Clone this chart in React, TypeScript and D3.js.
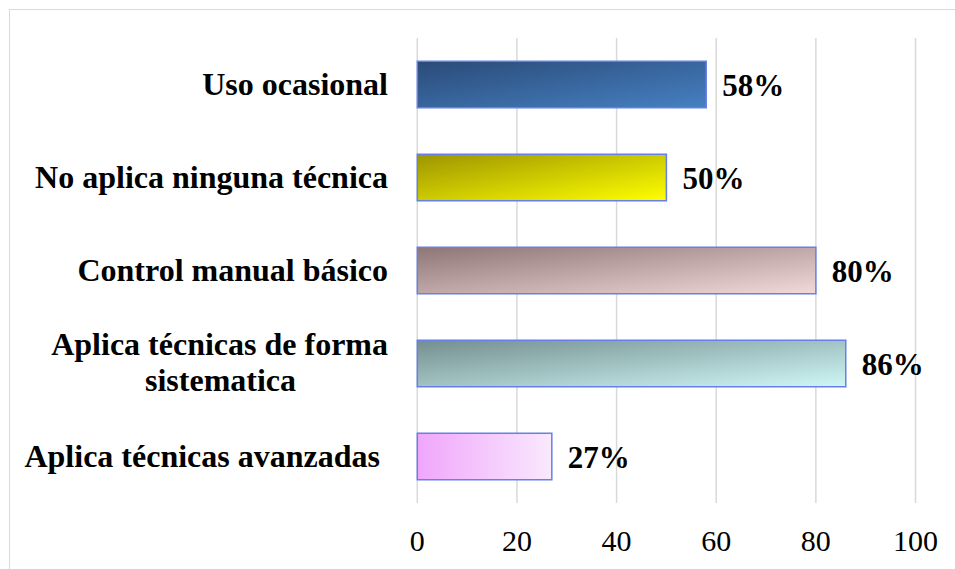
import React from 'react'
import * as d3 from 'd3'

const categories = [
  'Uso ocasional',
  'No aplica ninguna técnica',
  'Control manual básico',
  'Aplica técnicas de forma sistematica',
  'Aplica técnicas avanzadas ',
]
const values = [58, 50, 80, 86, 27]
const ticks = [0, 20, 40, 60, 80, 100]
// gradient colours per bar
const fillStart = ['#2a4b78', '#9c9500', '#8e7676', '#758e8e', '#f0a6fb']
const fillEnd = ['#4680c2', '#ffff00', '#f2dada', '#cff7f7', '#f9e9fd']
const fillDiagonal = [true, true, true, true, false]

const W = 955, H = 569
const FONT = '"Liberation Serif", "Times New Roman", serif'

export default function App() {
  const x = d3.scaleLinear().domain([0, 100]).range([417.3, 915.5])
  const y = d3.scaleBand<string>().domain(categories).range([38, 503]).paddingInner(0.5).paddingOuter(0.25)
  const bw = y.bandwidth()
  const labelRight = 388

  return (
    <svg width={W} height={H} style={{ position: 'absolute', left: 0, top: 0, background: '#fff' }}>
      <defs>
        {categories.map((c, i) => (
          <linearGradient key={c} id={`g${i}`} x1="0" y1="0" x2="1" y2={fillDiagonal[i] ? 1 : 0}>
            <stop offset="0" stopColor={fillStart[i]} />
            <stop offset="1" stopColor={fillEnd[i]} />
          </linearGradient>
        ))}
      </defs>
      <rect x={9.5} y={9.5} width={W} height={H} fill="none" stroke="#d9d9d9" strokeWidth={1} />
      {ticks.map(t => (
        <line key={t} x1={x(t)} x2={x(t)} y1={38} y2={503} stroke="#d9d9d9" strokeWidth={1.5} />
      ))}
      {ticks.map(t => (
        <text key={'t' + t} x={x(t)} y={551} textAnchor="middle" fontFamily={FONT} fontSize={30} fill="#000">{t}</text>
      ))}
      {categories.map((c, i) => {
        const y0 = y(c)!
        const cy = y0 + bw / 2
        return (
          <g key={c}>
            <rect x={x(0)} y={y0} width={x(values[i]) - x(0)} height={bw} fill={`url(#g${i})`} stroke="#6680e8" strokeWidth={1.5} />
            <text x={x(values[i]) + 16} y={cy + 11} fontFamily={FONT} fontSize={31} fontWeight="bold" fill="#000">{values[i]}%</text>
          </g>
        )
      })}
      {categories.map((c, i) => {
        const cy = y(c)! + bw / 2
        if (c.startsWith('Aplica técnicas de forma')) {
          const lineCenter = 220.5
          return (
            <g key={'l' + c}>
              <text x={labelRight} y={cy - 9} textAnchor="end" fontFamily={FONT} fontSize={32} fontWeight="bold">Aplica técnicas de forma</text>
              <text x={lineCenter} y={cy + 27.5} textAnchor="middle" fontFamily={FONT} fontSize={32} fontWeight="bold">sistematica</text>
            </g>
          )
        }
        return (
          <text key={'l' + c} x={labelRight} y={cy + 10} textAnchor="end" fontFamily={FONT} fontSize={32} fontWeight="bold" style={{ whiteSpace: 'pre' }}>{c}</text>
        )
      })}
    </svg>
  )
}
